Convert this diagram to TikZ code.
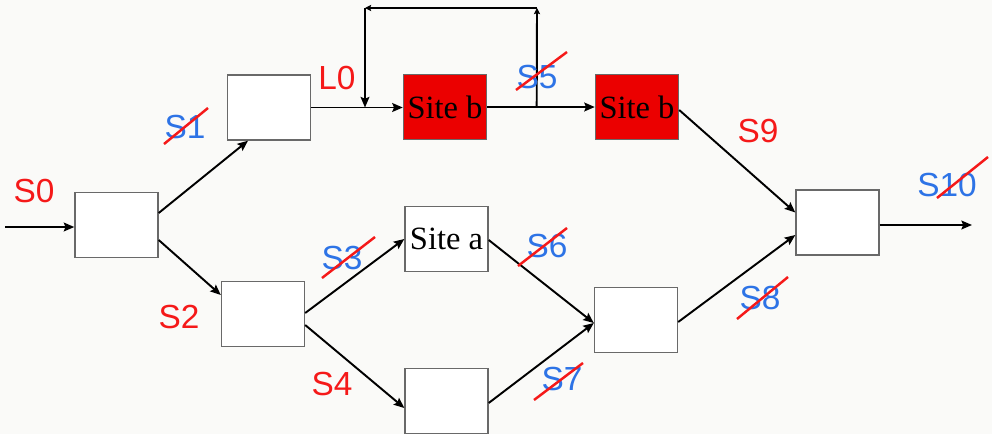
\documentclass[tikz,border=0pt]{standalone}
\usepackage{fontspec}
\setmainfont{Liberation Serif}
\setsansfont{Liberation Sans}
\usepackage{xcolor}
\usepackage{tikz}
\usetikzlibrary{arrows.meta,positioning,calc}
\definecolor{pagebg}{RGB}{250,250,248}
\definecolor{labred}{RGB}{245,25,25}
\definecolor{labblue}{RGB}{45,115,230}
\definecolor{sitered}{RGB}{235,0,0}
\definecolor{boxgray}{RGB}{105,105,105}

\begin{document}
\begin{tikzpicture}[
  x=0.02cm, y=0.02cm,
  box/.style={rectangle, draw=boxgray, line width=0.8pt, fill=white,
              minimum width=1.66cm, minimum height=1.3cm, inner sep=1pt,
              font=\fontsize{18.5}{20}\selectfont},
  sitebox/.style={box, fill=sitered},
  wire/.style={-{Stealth[length=6pt,width=5pt,inset=1pt]}, line width=1.1pt, draw=black},
  tinywire/.style={-{Stealth[length=3.5pt,width=3.5pt,inset=0.6pt]}, line width=1.1pt, draw=black},
  redlbl/.style={font=\sffamily\fontsize{19}{21}\selectfont, text=labred, inner sep=0pt},
  bluelbl/.style={font=\sffamily\fontsize{19}{21}\selectfont, text=labblue, inner sep=0pt},
  strike/.style={draw=labred, line width=1.4pt}]

  \fill[pagebg] (0,0) rectangle (992,434);
  \useasboundingbox (0,0) rectangle (992,434);

  % ---------- boxes ----------
  \node[box] (b0) at (116.5,209) {};
  \node[box] (b1) at (269,326.5) {};
  \node[box] (b2) at (263,120) {};
  \node[sitebox] (sb1) at (445,327) {Site b};
  \node[sitebox] (sb2) at (637,327) {Site b};
  \node[box] (sa) at (446.5,195) {Site a};
  \node[box] (bl) at (446.5,33) {};
  \node[box] (bm) at (636,114) {};
  \node[box] (bf) at (837.5,211.5) {};

  % ---------- input / output ----------
  \coordinate (in) at (5,207);
  \coordinate (out) at (972,209);
  \draw[wire] (in) -- (in -| b0.west);
  \draw[wire] (bf.east |- out) -- (out);

  % ---------- upper branch ----------
  \draw[wire] ($(b0.east)+(0,12)$) -- ($(b1.south)+(-21,0)$);
  \draw[wire] (b1.east) -- (b1.east -| sb1.west);
  \draw[wire] (sb1.east) -- (sb1.east -| sb2.west);
  \draw[wire] ($(sb2.east)+(0,-3)$) -- ($(bf.west)+(0,10)$);

  % feedback loop over the first site
  \coordinate (tap) at ($(sb1.east)!0.46!(sb2.east -| sb2.west)$);
  \coordinate (fbr) at (537,426);
  \coordinate (fbl) at (365,426);
  \draw[line width=1.1pt] (tap) -- ($(fbr)+(0,-4)$);
  \draw[tinywire] ($(fbr)+(0,-6)$) -- (fbr);
  \draw[tinywire] (fbr) -- (fbl);
  \draw[wire] (fbl) -- (fbl |- b1.east);

  % ---------- lower branch ----------
  \draw[wire] ($(b0.east)+(0,-15)$) -- ($(b2.west)+(0,19)$);
  \draw[wire] ($(b2.east)+(0,1)$) -- (sa.west);
  \draw[wire] ($(b2.east)+(0,-11)$) -- ($(bl.west)+(0,-7)$);
  \draw[wire] ($(sa.east)+(0,-1)$) -- ($(bm.west)+(0,-3)$);
  \draw[wire] ($(bl.east)+(0,-2)$) -- ($(bm.west)+(0,-3)$);
  \draw[wire] ($(bm.east)+(0,-2)$) -- ($(bf.west)+(0,-12.5)$);

  % ---------- kept labels ----------
  \node[redlbl] (s0) at (34,243) {S0};
  \node[redlbl] (s2) at (179,117) {S2};
  \node[redlbl] (s4) at (332,50) {S4};
  \node[redlbl] (s9) at (758,303) {S9};
  \node[redlbl] (l0) at (337,356) {L0};

  % ---------- struck labels ----------
  \node[bluelbl] (s1) at (185,307) {S1};
  \node[bluelbl] (s3) at (342,176) {S3};
  \node[bluelbl] (s5) at (537,357) {S5};
  \node[bluelbl] (s6) at (547,188) {S6};
  \node[bluelbl] (s7) at (562,55) {S7};
  \node[bluelbl] (s8) at (760,136) {S8};
  \node[bluelbl] (s10) at (947,249) {S10};
  \draw[strike] ($(s1)+(-21,-17)$) -- ($(s1)+(23,19)$);
  \draw[strike] ($(s3)+(-20,-20)$) -- ($(s3)+(33,21)$);
  \draw[strike] ($(s5)+(-21,-13)$) -- ($(s5)+(30,25)$);
  \draw[strike] ($(s6)+(-29,-20)$) -- ($(s6)+(20,18)$);
  \draw[strike] ($(s7)+(-28,-21)$) -- ($(s7)+(21,16)$);
  \draw[strike] ($(s8)+(-23,-21)$) -- ($(s8)+(28,21)$);
  \draw[strike] ($(s10)+(-10,-13)$) -- ($(s10)+(41,28)$);

\end{tikzpicture}
\end{document}
